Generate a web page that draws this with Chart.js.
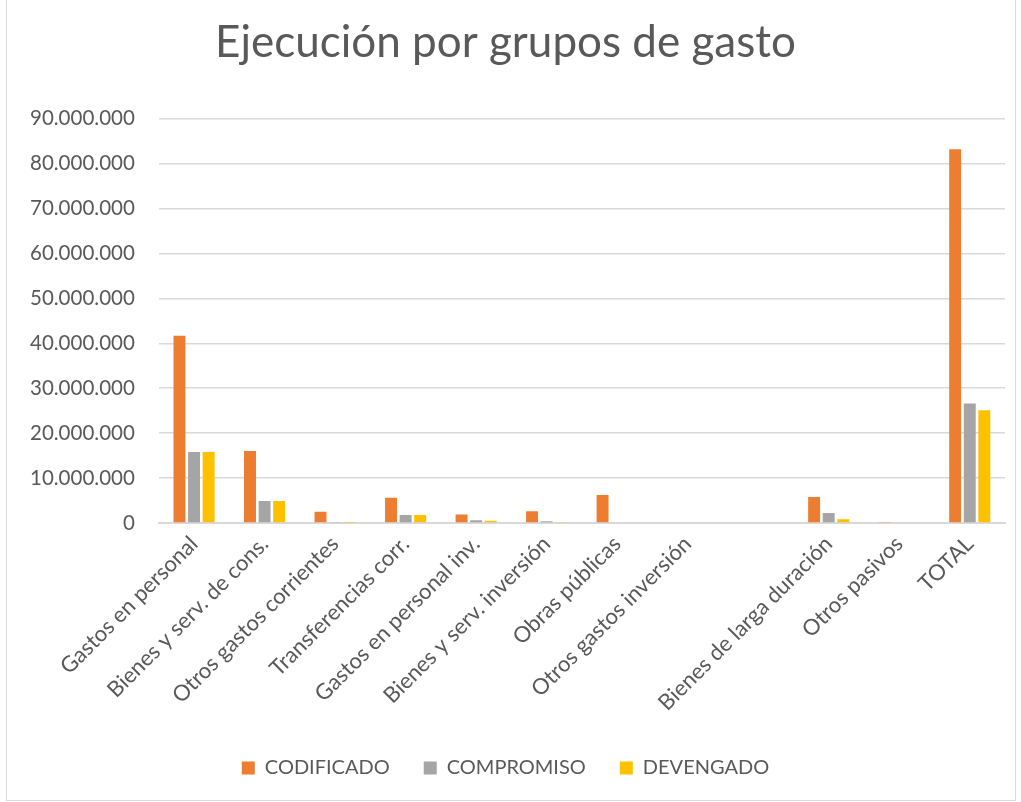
<!DOCTYPE html>
<html>
<head>
<meta charset="utf-8">
<script src="https://cdn.jsdelivr.net/npm/chart.js@4"></script>
<style>
  body { margin: 0; background: #fff; }
  #wrap { position: relative; width: 1021px; height: 802px; }
  #frame { position: absolute; left: 6px; top: -1px; width: 1008px; height: 800px; border: 1px solid #d9d9d9; }
  canvas { position: absolute; left: 0; top: 0; }
</style>
</head>
<body>
<div id="wrap">
  <div id="frame"></div>
  <canvas id="chart" width="1021" height="802"></canvas>
</div>
<script>
/*********** data *************/
const categories = [
  "Gastos en personal", "Bienes y serv. de cons.", "Otros gastos corrientes",
  "Transferencias corr.", "Gastos en personal inv.", "Bienes y serv. inversión",
  "Obras públicas", "Otros gastos inversión", "", "Bienes de larga duración",
  "Otros pasivos", "TOTAL"
];
const codificado = [41700000, 16000000, 2500000, 5600000, 1900000, 2600000, 6200000, 0, 0, 5800000, 100000, 83200000];
const compromiso = [15800000, 4900000, 100000, 1800000, 600000, 400000, 0, 0, 0, 2200000, 0, 26600000];
const devengado  = [15800000, 4900000, 50000, 1800000, 500000, 200000, 0, 0, 0, 800000, 0, 25100000];

const textColor = "#595959";
const fontName = "Lato, 'Open Sans', sans-serif";

// thousands with dots, like the spreadsheet
function formatNum(v) {
  return String(v).replace(/\B(?=(\d{3})+(?!\d))/g, ".");
}

/*********** chart *************/
const ctx = document.getElementById("chart");
new Chart(ctx, {
  type: "bar",
  data: {
    labels: categories,
    datasets: [
      { label: "CODIFICADO", data: codificado, backgroundColor: "#ED7D31" },
      { label: "COMPROMISO", data: compromiso, backgroundColor: "#A5A5A5" },
      { label: "DEVENGADO", data: devengado, backgroundColor: "#FFC000" }
    ]
  },
  options: {
    responsive: false,
    animation: false,
    layout: { padding: { left: 6, right: 16, top: 4, bottom: 14 } },
    datasets: { bar: { categoryPercentage: 0.62, barPercentage: 0.82 } },
    plugins: {
      title: {
        display: true,
        text: "Ejecución por grupos de gasto",
        color: textColor,
        font: { family: fontName, size: 44, weight: "normal" },
        padding: { top: 12, bottom: 50 }
      },
      legend: {
        position: "bottom",
        labels: {
          color: textColor,
          font: { family: fontName, size: 20 },
          boxWidth: 13,
          boxHeight: 13,
          padding: 34
        }
      },
      tooltip: { enabled: false }
    },
    scales: {
      x: {
        grid: { display: false, drawTicks: false },
        border: { color: "#d9d9d9", width: 2 },
        ticks: {
          color: textColor,
          font: { family: fontName, size: 22 },
          minRotation: 45,
          maxRotation: 45,
          autoSkip: false,
          padding: 8
        }
      },
      y: {
        min: 0,
        max: 90000000,
        grid: { color: "#d9d9d9", lineWidth: 1.5, drawTicks: false },
        border: { display: false },
        ticks: {
          stepSize: 10000000,
          color: textColor,
          font: { family: fontName, size: 20.5 },
          padding: 24,
          callback: v => formatNum(v)
        }
      }
    }
  }
});
</script>
</body>
</html>
